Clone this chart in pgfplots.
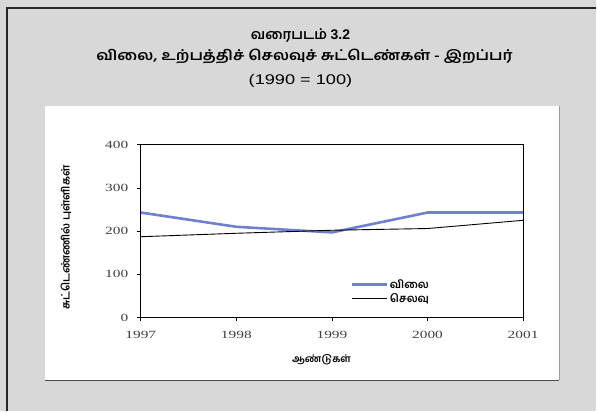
\documentclass[border=0pt]{standalone}
\usepackage{pgfplots}
\pgfplotsset{compat=1.18}
\usepackage{fontspec}
\setmainfont{Liberation Serif}
\newfontfamily\tamil[Script=Tamil]{Hind Madurai}
\newfontfamily\tamilwide[Script=Tamil,FakeStretch=1.15]{Hind Madurai}
\newfontfamily\sans{Liberation Sans}
\newfontfamily\sanswide[FakeStretch=1.3]{Liberation Sans}
\newfontfamily\tickfont[FakeStretch=1.4]{Liberation Serif}
\definecolor{bg}{HTML}{D8D8D8}
\definecolor{vilai}{HTML}{7080D0}
\begin{document}
\begin{tikzpicture}[x=1pt,y=1pt]
\fill[bg] (0,0) rectangle (597,412);
\draw[line width=2pt,black!85] (7,0) -- (7,404) -- (597,404);
\fill[white] (45,31) rectangle (560,306);
\draw[line width=1pt,black!70] (45,31) -- (560,31);
\draw[line width=0.6pt,black!40] (560,31) -- (560,306);
\node[font=\tamil\bfseries\fontsize{14}{16}\selectfont] at (301,377) {வரைபடம் {\sans 3.2}};
\node[font=\tamilwide\bfseries\fontsize{14}{16}\selectfont] at (305,355) {விலை, உற்பத்திச் செலவுச் சுட்டெண்கள் - இறப்பர்};
\node[font=\sanswide\fontsize{14}{16}\selectfont] at (301,331) {(1990 = 100)};
\node[font=\tamil\bfseries\fontsize{11}{13}\selectfont, rotate=90] at (66,174) {சுட்டெண்ணில் புள்ளிகள்};
\node[font=\tamil\bfseries\fontsize{10}{12}\selectfont] at (322,52) {ஆண்டுகள்};
\begin{axis}[
  at={(141pt,94pt)}, anchor=south west,
  scale only axis, width=383pt, height=173pt,
  xmin=1997, xmax=2001, ymin=0, ymax=400,
  xtick={1997,1998,1999,2000,2001},
  xticklabels={1997,1998,1999,2000,2001},
  ytick={0,100,200,300,400},
  yticklabels={0,100,200,300,400},
  tick align=outside, xtick pos=bottom, ytick pos=left,
  major tick length=4pt,
  tick style={black, line width=0.8pt},
  axis line style={black, line width=1pt},
  ticklabel style={font=\tickfont\fontsize{11}{13}\selectfont, text=black!75},
  xticklabel style={yshift=-6pt},
  yticklabel style={xshift=-5pt},
  legend style={at={(0.54,0.245)}, anchor=north west, draw=none, fill=none,
    font=\tamil\bfseries\fontsize{11}{13}\selectfont, row sep=0pt},
  legend cell align=left,
  legend image code/.code={\draw[#1] (0pt,0pt) -- (35pt,0pt);},
]
\addplot[vilai, line width=2.6pt] coordinates {(1997,243) (1998,210) (1999,197) (2000,243) (2001,243)};
\addlegendentry{விலை}
\addplot[black, line width=0.9pt] coordinates {(1997,187) (1998,195) (1999,202) (2000,206) (2001,225)};
\addlegendentry{செலவு}
\end{axis}
\end{tikzpicture}
\end{document}
